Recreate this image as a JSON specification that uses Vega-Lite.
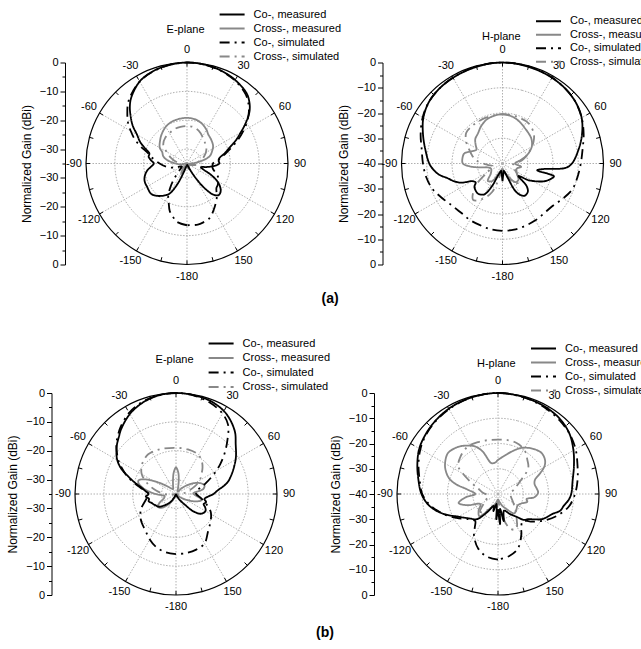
{
  "$schema": "https://vega.github.io/schema/vega-lite/v6.json",
  "background": "white",
  "padding": {"left": 6, "top": 8.5, "right": 0, "bottom": 0},
  "autosize": {"type": "pad"},
  "config": {
    "view": {"stroke": null},
    "font": "Liberation Sans",
    "title": {"font": "Liberation Sans", "fontSize": 11, "fontWeight": "normal", "color": "black"},
    "text": {"font": "Liberation Sans"},
    "axis": {"labelFont": "Liberation Sans", "titleFont": "Liberation Sans", "labelFontSize": 11, "titleFontSize": 12, "titleFontWeight": "normal", "labelColor": "black", "titleColor": "black", "domainColor": "black", "tickColor": "black", "grid": false, "labelOverlap": false, "labelFlush": false, "labelPadding": 2, "titlePadding": 6},
    "legend": {"labelFont": "Liberation Sans", "titleFont": "Liberation Sans", "titleFontSize": 11, "titleFontWeight": "normal", "titleColor": "black", "titleOrient": "left", "titleAnchor": "middle", "titleBaseline": "bottom", "titlePadding": 15, "symbolType": "M-5,0L5,0", "symbolSize": 25, "symbolStrokeWidth": 2, "symbolOffset": 7, "labelOffset": 16, "padding": 0, "labelFontSize": 11, "labelColor": "black", "labelLimit": 0}
  },
  "datasets": {
    "rings": [
      {"ring": -30, "a": [0,15,30,45,60,75,90,105,120,135,150,165,180,195,210,225,240,255,270,285,300,315,330,345]},
      {"ring": -20, "a": [0,15,30,45,60,75,90,105,120,135,150,165,180,195,210,225,240,255,270,285,300,315,330,345]},
      {"ring": -10, "a": [0,15,30,45,60,75,90,105,120,135,150,165,180,195,210,225,240,255,270,285,300,315,330,345]},
      {"ring": 0, "a": [0,15,30,45,60,75,90,105,120,135,150,165,180,195,210,225,240,255,270,285,300,315,330,345]}
    ],
    "ticks": [{"a": [0,15,30,45,60,75,90,105,120,135,150,165,180,195,210,225,240,255,270,285,300,315,330,345]}],
    "alabels": [{"a":0,"t":"0"},{"a":30,"t":"30"},{"a":60,"t":"60"},{"a":90,"t":"90"},{"a":120,"t":"120"},{"a":150,"t":"150"},{"a":180,"t":"-180"},{"a":210,"t":"-150"},{"a":240,"t":"-120"},{"a":270,"t":"-90"},{"a":300,"t":"-60"},{"a":330,"t":"-30"}],
    "Ea": [
      {"s": "Cross-, measured", "p": [[-180,-34],[-160,-33],[-150,-31],[-140,-33],[-120,-35],[-100,-33],[-90,-31],[-80,-28],[-73,-26.4],[-65,-25.5],[-60,-24.1],[-50,-22.8],[-41,-21.6],[-30,-20.3],[-20,-19.6],[-10,-19.3],[0,-19.2],[10,-19.4],[20,-20.2],[30,-21.5],[36,-22.5],[45,-23.2],[56,-24.1],[65,-25.5],[72,-26.7],[78,-29],[85,-32],[90,-33],[100,-32],[110,-33.5],[120,-35],[140,-34],[160,-33],[180,-34]]},
      {"s": "Cross-, simulated", "p": [[-180,-35],[-150,-33],[-120,-35],[-100,-34],[-90,-33],[-80,-31],[-70,-29],[-64,-27.8],[-51,-24.4],[-40,-23.3],[-29,-22.8],[-20,-22.3],[-10,-22.1],[0,-22],[10,-22.2],[20,-23],[32,-24.5],[43,-25.7],[54,-26.7],[65,-28.2],[75,-29.8],[85,-32],[95,-34],[110,-33],[130,-35],[150,-34],[180,-35]]},
      {"s": "Co-, simulated", "p": [[-180,-13.6],[-170,-14.5],[-165,-16],[-160,-17.5],[-155,-20],[-150,-22],[-145,-25],[-140,-28],[-130,-32],[-120,-33],[-110,-31],[-100,-28],[-90,-25.5],[-80,-22.5],[-75,-21],[-70,-18],[-65,-15],[-60,-12.5],[-55,-10],[-50,-8],[-45,-6],[-40,-4.5],[-30,-2.2],[-20,-1],[-10,-0.3],[0,0],[10,-0.2],[20,-0.8],[30,-1.8],[40,-3.5],[45,-5],[50,-7],[55,-9.5],[60,-12.5],[65,-15.5],[70,-18.5],[75,-21],[80,-23],[85,-24.5],[90,-26],[100,-26],[110,-24],[115,-23],[120,-22.5],[125,-22],[130,-21.7],[135,-20.5],[140,-19],[145,-17.8],[150,-16.5],[157,-14.6],[165,-13.8],[170,-13.5],[180,-13.6]]},
      {"s": "Co-, measured", "p": [[-180,-34],[-170,-34],[-160,-32],[-155,-27],[-150,-23],[-145,-21.5],[-140,-20.3],[-135,-19.3],[-130,-18.7],[-125,-18.8],[-120,-19],[-115,-19],[-110,-19.3],[-105,-20],[-100,-21],[-95,-22.5],[-90,-23.5],[-85,-22.5],[-80,-21.5],[-75,-21.5],[-70,-19.5],[-65,-17],[-60,-15],[-55,-12],[-50,-9.5],[-45,-7],[-40,-5],[-30,-2.2],[-20,-0.9],[-10,-0.3],[0,0],[10,-0.2],[20,-0.7],[30,-1.6],[40,-3],[45,-4.5],[50,-6.7],[55,-10],[60,-13.5],[65,-16.5],[70,-19.5],[75,-21.5],[80,-23.5],[85,-24],[90,-23.8],[95,-25.5],[100,-28],[105,-30],[110,-29],[115,-26],[120,-23],[125,-21],[130,-19.8],[135,-19.5],[140,-21],[145,-25],[150,-30],[155,-33],[160,-34],[170,-34.5],[180,-34]]}
    ],
    "Ha": [
      {"s": "Cross-, measured", "p": [[-180,-38],[-160,-36],[-150,-32],[-140,-31],[-130,-34],[-115,-35],[-105,-34],[-100,-31],[-95,-27],[-90,-24.3],[-82,-24],[-75,-24.4],[-68,-27],[-62,-28.3],[-55,-27],[-48,-25.5],[-39,-24.6],[-30,-23],[-20,-21.5],[-10,-20.8],[0,-20.5],[8,-20.8],[15,-21.3],[25,-22.5],[33,-23.5],[41,-24.2],[50,-25],[60,-26.6],[67,-28.5],[74,-30.7],[80,-33],[90,-35],[100,-32.5],[110,-34],[125,-33],[135,-31],[145,-31],[155,-34],[170,-37],[180,-38]]},
      {"s": "Cross-, simulated", "p": [[-180,-38],[-170,-36],[-160,-28],[-150,-23.7],[-141,-21.5],[-130,-26],[-120,-33],[-105,-36],[-95,-34],[-83,-29.5],[-75,-27.5],[-68,-25.9],[-60,-23.5],[-50,-21.2],[-40,-20.9],[-30,-20.8],[-20,-20.7],[-10,-20.6],[0,-20.5],[10,-20.6],[20,-20.7],[33,-21],[46,-22.8],[55,-25],[64,-27.8],[72,-30],[80,-32],[90,-35],[100,-36],[120,-34],[130,-32],[140,-30],[150,-31.5],[160,-35],[170,-37],[180,-38]]},
      {"s": "Co-, simulated", "p": [[-180,-13.3],[-170,-13.5],[-160,-14],[-150,-14.2],[-140,-14.5],[-130,-14],[-120,-12.5],[-110,-10.5],[-100,-9.3],[-90,-8.5],[-80,-7.5],[-70,-5.5],[-60,-3.5],[-50,-2],[-40,-1.2],[-30,-0.7],[-20,-0.4],[-10,-0.1],[0,0],[10,-0.1],[20,-0.4],[30,-0.7],[40,-1.3],[50,-2.2],[60,-3.8],[70,-5.8],[80,-7.8],[90,-9],[100,-9.8],[110,-10.5],[120,-12.3],[130,-14],[140,-14.3],[150,-14],[160,-13.7],[170,-13.4],[180,-13.3]]},
      {"s": "Co-, measured", "p": [[-180,-33],[-175,-36],[-170,-37],[-160,-35],[-155,-30],[-150,-26],[-145,-25],[-140,-24.6],[-130,-25.5],[-125,-27],[-120,-26],[-115,-22],[-110,-19.5],[-105,-17.5],[-100,-14.5],[-95,-12.5],[-90,-11],[-80,-9],[-70,-6.5],[-60,-3.8],[-50,-2],[-40,-1.2],[-30,-0.8],[-20,-0.5],[-10,-0.2],[0,0],[10,-0.2],[20,-0.5],[30,-0.8],[40,-1.3],[50,-2.2],[60,-3.8],[70,-6.5],[80,-9.5],[90,-12.5],[94,-15],[98,-24],[101,-26],[104,-19],[108,-20],[113,-22],[118,-25],[123,-28],[128,-32],[133,-27],[138,-25],[145,-24.5],[150,-25.5],[155,-28],[160,-34],[170,-37],[175,-36],[180,-33]]}
    ],
    "Eb": [
      {"s": "Cross-, measured", "p": [[-180,-35],[-160,-34],[-150,-32],[-140,-29.5],[-133,-28],[-126,-27.4],[-118,-28.5],[-110,-30.5],[-100,-31],[-95,-30],[-88,-27],[-80,-23.5],[-74,-21.5],[-70,-21.2],[-65,-23],[-58,-27],[-50,-30.5],[-40,-32.5],[-30,-33],[-20,-32],[-12,-30],[-6,-27.5],[0,-25.8],[6,-27.5],[12,-30.5],[20,-33],[35,-34],[45,-32],[55,-29],[63,-26.5],[70,-25],[74,-24.7],[80,-25.5],[88,-29],[95,-28],[100,-26.5],[104,-26],[110,-27.5],[120,-31],[135,-34],[160,-35],[180,-35]]},
      {"s": "Cross-, simulated", "p": [[-180,-35],[-150,-34],[-120,-35],[-100,-33.5],[-90,-31],[-80,-28],[-70,-24.5],[-60,-21.3],[-50,-19.5],[-40,-18.5],[-35,-18.2],[-25,-18.4],[-15,-18.7],[0,-19],[15,-19],[29,-19.3],[38,-20.5],[45,-22],[52,-23.8],[60,-25.5],[68,-28],[76,-30.5],[85,-32.5],[95,-34],[120,-35],[150,-34],[180,-35]]},
      {"s": "Co-, simulated", "p": [[-180,-14.2],[-170,-14.5],[-160,-15.3],[-150,-16.8],[-140,-18.5],[-130,-19.5],[-123,-20.3],[-115,-21.5],[-110,-22.5],[-100,-24.5],[-90,-25.5],[-80,-22.5],[-75,-20],[-70,-17],[-65,-14.5],[-60,-12],[-55,-10],[-50,-8],[-45,-6.5],[-40,-5],[-30,-2.5],[-20,-1],[-10,-0.3],[0,0],[10,-0.3],[20,-1.2],[30,-2.8],[37,-5],[44,-9.4],[50,-13],[56,-16.5],[62,-20],[70,-24],[75,-26],[82,-28],[90,-28],[100,-26],[110,-23.5],[117,-21.5],[123,-20.5],[130,-19.5],[140,-17.8],[150,-15.2],[160,-14.5],[170,-14.2],[180,-14.2]]},
      {"s": "Co-, measured", "p": [[-180,-35],[-170,-35],[-160,-34.5],[-150,-33],[-145,-31.5],[-135,-29.5],[-126,-27.5],[-120,-27],[-115,-26.5],[-110,-26],[-105,-25.2],[-100,-25.5],[-95,-24.5],[-90,-25.5],[-85,-24.5],[-80,-23],[-75,-20.5],[-70,-17.5],[-65,-14],[-60,-11.5],[-55,-9.8],[-50,-8.3],[-45,-7],[-40,-5.5],[-30,-3],[-20,-1.3],[-10,-0.3],[0,0],[10,-0.2],[20,-0.6],[30,-1.8],[37,-3.4],[44,-5.5],[50,-8],[58,-10.5],[65,-12.8],[72,-15],[77,-16.6],[81,-18.5],[85,-20.5],[90,-22],[95,-24],[100,-25],[105,-24.2],[110,-24.8],[115,-23.8],[120,-23.2],[128,-23.9],[135,-26.5],[140,-30],[150,-33],[160,-34.5],[170,-35],[180,-35]]}
    ],
    "Hb": [
      {"s": "Cross-, measured", "p": [[-180,-38],[-165,-36],[-150,-33],[-140,-28.5],[-130,-30],[-120,-32],[-110,-27],[-103,-24],[-96,-27],[-90,-31],[-82,-28],[-77,-23],[-73,-20.1],[-68,-18],[-61,-16],[-51,-14.4],[-44,-15],[-37,-16.2],[-26,-19],[-20,-22],[-12,-27.5],[-5,-27.5],[0,-26.5],[8,-25],[18,-22.3],[26,-19.8],[33,-18.2],[40,-17],[47,-16.3],[54,-17],[59,-18.5],[64,-21.5],[69,-24.3],[75,-25],[82,-24.5],[88,-24.1],[95,-25.5],[100,-28.5],[105,-28],[112,-30],[120,-31],[130,-30.5],[140,-30],[150,-33],[160,-35],[180,-38]]},
      {"s": "Cross-, simulated", "p": [[-180,-38],[-170,-36],[-150,-33],[-135,-30],[-120,-34],[-100,-36],[-85,-34],[-75,-32],[-67,-28.6],[-60,-24],[-55,-20.8],[-45,-19],[-32,-17.7],[-20,-18],[-10,-18.3],[0,-18.5],[10,-18.3],[20,-18.5],[26,-19],[35,-20.5],[40,-22],[48,-23.8],[54,-26.5],[58,-29],[65,-31.5],[72,-33],[90,-35],[120,-33],[135,-30],[145,-27],[150,-25],[155,-24.4],[162,-26],[170,-32],[180,-38]]},
      {"s": "Co-, simulated", "p": [[-180,-14],[-170,-14.8],[-160,-17],[-150,-21],[-145,-24],[-140,-26],[-135,-25.5],[-130,-24.5],[-120,-21],[-110,-17],[-100,-13],[-90,-10],[-80,-8.5],[-70,-6.5],[-60,-4.5],[-50,-3],[-40,-2],[-30,-1.2],[-20,-0.6],[-10,-0.2],[0,0],[10,-0.2],[20,-0.6],[30,-1.2],[40,-2],[50,-3],[60,-4.5],[70,-6.5],[80,-8],[90,-9.5],[100,-11.5],[110,-15],[120,-19],[130,-23],[137,-25.5],[145,-24],[150,-21.5],[160,-17],[170,-15],[180,-14]]},
      {"s": "Co-, measured", "p": [[-180,-34],[-176,-30],[-172,-36],[-165,-33],[-160,-35],[-150,-32],[-140,-27],[-130,-25],[-120,-22],[-110,-17],[-100,-12.5],[-90,-9.7],[-80,-8],[-70,-6],[-60,-4],[-50,-2.8],[-40,-1.8],[-30,-1],[-20,-0.5],[-10,-0.2],[0,0],[10,-0.2],[20,-0.5],[30,-0.8],[40,-1.5],[50,-3],[60,-5.5],[70,-8],[80,-10],[90,-11],[95,-12],[100,-13.5],[105,-14.5],[110,-17],[115,-18.5],[120,-20],[125,-22.5],[130,-24.5],[135,-25.5],[140,-28],[150,-31],[160,-33],[168,-29],[172,-34],[176,-28],[180,-34]]}
    ]
  },
  "bounds": "flush",
  "spacing": 330.5,
  "resolve": {"scale": {"x": "independent", "y": "independent", "color": "independent", "strokeDash": "independent"}, "legend": {"color": "independent", "strokeDash": "independent"}},
  "vconcat": [
    {
      "bounds": "flush",
      "spacing": 113.5,
      "title": {"text": "(a)", "orient": "bottom", "anchor": "middle", "fontSize": 14, "fontWeight": "bold", "offset": 10, "dx": -9},
      "resolve": {"scale": {"x": "independent", "y": "independent", "color": "independent", "strokeDash": "independent"}, "legend": {"color": "independent", "strokeDash": "independent"}},
      "hconcat": [
        {
          "width": 213, "height": 202,
          "encoding": {
            "x": {"field": "x", "type": "quantitative", "scale": {"domain": [-1.10891, 1], "nice": false, "zero": false}, "axis": null},
            "y": {"field": "y", "type": "quantitative", "scale": {"domain": [-1, 1], "nice": false, "zero": false},
                  "axis": {"title": "Normalized Gain (dBi)", "offset": 10, "values": [1,0.857143,0.714286,0.571429,0.428571,0.285714,0.142857,0,-0.142857,-0.285714,-0.428571,-0.571429,-0.714286,-0.857143,-1],
                           "labelExpr": "(round(abs(datum.value)*35)-35) % 10 == 0 ? format(round(abs(datum.value)*35)-35, 'd') : ''",
                           "tickSize": {"condition": {"test": "(round(abs(datum.value)*35)-35) % 10 == 0", "value": 5}, "value": 3}}}
          },
          "layer": [
            {"data": {"name": "rings"}, "transform": [{"flatten": ["a"]}, {"filter": "datum.ring < 0"}, {"calculate": "(datum.ring + 35) / 35", "as": "rn"}, {"calculate": "datum.rn * sin(datum.a * PI / 180)", "as": "x"}, {"calculate": "datum.rn * cos(datum.a * PI / 180)", "as": "y"}],
             "mark": {"type": "line", "interpolate": "cardinal-closed", "stroke": "#b0b0b0", "strokeWidth": 1, "strokeDash": [1.5, 1.5]},
             "encoding": {"detail": {"field": "ring", "type": "nominal"}, "order": {"field": "a", "type": "quantitative"}}},
            {"data": {"name": "alabels"}, "transform": [{"calculate": "0", "as": "x"}, {"calculate": "0", "as": "y"}, {"calculate": "sin(datum.a * PI / 180)", "as": "x2"}, {"calculate": "cos(datum.a * PI / 180)", "as": "y2"}],
             "mark": {"type": "rule", "stroke": "#b0b0b0", "strokeWidth": 1, "strokeDash": [1.5, 1.5]},
             "encoding": {"x2": {"field": "x2"}, "y2": {"field": "y2"}}},
            {"data": {"name": "rings"}, "transform": [{"flatten": ["a"]}, {"filter": "datum.ring == 0"}, {"calculate": "sin(datum.a * PI / 180)", "as": "x"}, {"calculate": "cos(datum.a * PI / 180)", "as": "y"}],
             "mark": {"type": "line", "interpolate": "cardinal-closed", "stroke": "black", "strokeWidth": 1.2},
             "encoding": {"order": {"field": "a", "type": "quantitative"}}},
            {"data": {"name": "ticks"}, "transform": [{"flatten": ["a"]}, {"calculate": "0.96 * sin(datum.a * PI / 180)", "as": "x"}, {"calculate": "0.96 * cos(datum.a * PI / 180)", "as": "y"}, {"calculate": "sin(datum.a * PI / 180)", "as": "x2"}, {"calculate": "cos(datum.a * PI / 180)", "as": "y2"}],
             "mark": {"type": "rule", "stroke": "black", "strokeWidth": 1},
             "encoding": {"x2": {"field": "x2"}, "y2": {"field": "y2"}}},
            {"data": {"name": "Ea"}, "transform": [{"flatten": ["p"]}, {"calculate": "datum.p[0]", "as": "a"}, {"calculate": "datum.p[1]", "as": "g"}, {"calculate": "max(0, (datum.g + 35) / 35)", "as": "rn"}, {"calculate": "datum.rn * sin(datum.a * PI / 180)", "as": "x"}, {"calculate": "datum.rn * cos(datum.a * PI / 180)", "as": "y"}],
             "mark": {"type": "line", "interpolate": "catmull-rom", "strokeWidth": 1.8},
             "encoding": {
               "order": {"field": "a", "type": "quantitative"},
               "color": {"field": "s", "type": "nominal", "scale": {"domain": ["Co-, measured", "Cross-, measured", "Co-, simulated", "Cross-, simulated"], "range": ["#000000", "#888888", "#000000", "#888888"]},
                         "legend": {"orient": "none", "legendX": 91.6, "legendY": -53.5, "title": "E-plane", "rowPadding": 2}},
               "strokeDash": {"field": "s", "type": "nominal", "scale": {"domain": ["Co-, measured", "Cross-, measured", "Co-, simulated", "Cross-, simulated"], "range": [[1, 0], [1, 0], [10, 5, 2, 5], [10, 5, 2, 5]]},
                         "legend": {"orient": "none", "legendX": 91.6, "legendY": -53.5, "title": "E-plane", "rowPadding": 2}}
             }},
            {"data": {"name": "alabels"}, "transform": [{"calculate": "1.12 * sin(datum.a * PI / 180)", "as": "x"}, {"calculate": "1.12 * cos(datum.a * PI / 180)", "as": "y"}],
             "mark": {"type": "text", "fontSize": 11, "align": "center", "baseline": "middle", "color": "black", "font": "Liberation Sans"},
             "encoding": {"text": {"field": "t"}}}
          ]
        },
        {
          "width": 202, "height": 202,
          "encoding": {
            "x": {"field": "x", "type": "quantitative", "scale": {"domain": [-1, 1], "nice": false, "zero": false}, "axis": null},
            "y": {"field": "y", "type": "quantitative", "scale": {"domain": [-1, 1], "nice": false, "zero": false},
                  "axis": {"title": "Normalized Gain (dBi)", "offset": 19, "values": [1,0.875,0.75,0.625,0.5,0.375,0.25,0.125,0,-0.125,-0.25,-0.375,-0.5,-0.625,-0.75,-0.875,-1],
                           "labelExpr": "(round(abs(datum.value)*40)-40) % 10 == 0 ? format(round(abs(datum.value)*40)-40, 'd') : ''",
                           "tickSize": {"condition": {"test": "(round(abs(datum.value)*40)-40) % 10 == 0", "value": 5}, "value": 3}}}
          },
          "layer": [
            {"data": {"name": "rings"}, "transform": [{"flatten": ["a"]}, {"filter": "datum.ring < 0"}, {"calculate": "(datum.ring + 40) / 40", "as": "rn"}, {"calculate": "datum.rn * sin(datum.a * PI / 180)", "as": "x"}, {"calculate": "datum.rn * cos(datum.a * PI / 180)", "as": "y"}],
             "mark": {"type": "line", "interpolate": "cardinal-closed", "stroke": "#b0b0b0", "strokeWidth": 1, "strokeDash": [1.5, 1.5]},
             "encoding": {"detail": {"field": "ring", "type": "nominal"}, "order": {"field": "a", "type": "quantitative"}}},
            {"data": {"name": "alabels"}, "transform": [{"calculate": "0", "as": "x"}, {"calculate": "0", "as": "y"}, {"calculate": "sin(datum.a * PI / 180)", "as": "x2"}, {"calculate": "cos(datum.a * PI / 180)", "as": "y2"}],
             "mark": {"type": "rule", "stroke": "#b0b0b0", "strokeWidth": 1, "strokeDash": [1.5, 1.5]},
             "encoding": {"x2": {"field": "x2"}, "y2": {"field": "y2"}}},
            {"data": {"name": "rings"}, "transform": [{"flatten": ["a"]}, {"filter": "datum.ring == 0"}, {"calculate": "sin(datum.a * PI / 180)", "as": "x"}, {"calculate": "cos(datum.a * PI / 180)", "as": "y"}],
             "mark": {"type": "line", "interpolate": "cardinal-closed", "stroke": "black", "strokeWidth": 1.2},
             "encoding": {"order": {"field": "a", "type": "quantitative"}}},
            {"data": {"name": "ticks"}, "transform": [{"flatten": ["a"]}, {"calculate": "0.96 * sin(datum.a * PI / 180)", "as": "x"}, {"calculate": "0.96 * cos(datum.a * PI / 180)", "as": "y"}, {"calculate": "sin(datum.a * PI / 180)", "as": "x2"}, {"calculate": "cos(datum.a * PI / 180)", "as": "y2"}],
             "mark": {"type": "rule", "stroke": "black", "strokeWidth": 1},
             "encoding": {"x2": {"field": "x2"}, "y2": {"field": "y2"}}},
            {"data": {"name": "Ha"}, "transform": [{"flatten": ["p"]}, {"calculate": "datum.p[0]", "as": "a"}, {"calculate": "datum.p[1]", "as": "g"}, {"calculate": "max(0, (datum.g + 40) / 40)", "as": "rn"}, {"calculate": "datum.rn * sin(datum.a * PI / 180)", "as": "x"}, {"calculate": "datum.rn * cos(datum.a * PI / 180)", "as": "y"}],
             "mark": {"type": "line", "interpolate": "catmull-rom", "strokeWidth": 1.8},
             "encoding": {
               "order": {"field": "a", "type": "quantitative"},
               "color": {"field": "s", "type": "nominal", "scale": {"domain": ["Co-, measured", "Cross-, measured", "Co-, simulated", "Cross-, simulated"], "range": ["#000000", "#888888", "#000000", "#888888"]},
                         "legend": {"orient": "none", "legendX": 80.5, "legendY": -46.8, "title": "H-plane", "rowPadding": 1.5}},
               "strokeDash": {"field": "s", "type": "nominal", "scale": {"domain": ["Co-, measured", "Cross-, measured", "Co-, simulated", "Cross-, simulated"], "range": [[1, 0], [1, 0], [10, 5, 2, 5], [10, 5, 2, 5]]},
                         "legend": {"orient": "none", "legendX": 80.5, "legendY": -46.8, "title": "H-plane", "rowPadding": 1.5}}
             }},
            {"data": {"name": "alabels"}, "transform": [{"calculate": "1.12 * sin(datum.a * PI / 180)", "as": "x"}, {"calculate": "1.12 * cos(datum.a * PI / 180)", "as": "y"}],
             "mark": {"type": "text", "fontSize": 11, "align": "center", "baseline": "middle", "color": "black", "font": "Liberation Sans"},
             "encoding": {"text": {"field": "t"}}}
          ]
        }
      ]
    },
    {
      "bounds": "flush",
      "spacing": 120,
      "title": {"text": "(b)", "orient": "bottom", "anchor": "middle", "fontSize": 14, "fontWeight": "bold", "offset": 14, "dx": -5},
      "resolve": {"scale": {"x": "independent", "y": "independent", "color": "independent", "strokeDash": "independent"}, "legend": {"color": "independent", "strokeDash": "independent"}},
      "hconcat": [
        {
          "width": 202, "height": 202,
          "encoding": {
            "x": {"field": "x", "type": "quantitative", "scale": {"domain": [-1, 1], "nice": false, "zero": false}, "axis": null},
            "y": {"field": "y", "type": "quantitative", "scale": {"domain": [-1, 1], "nice": false, "zero": false},
                  "axis": {"title": "Normalized Gain (dBi)", "offset": 23.5, "values": [1,0.857143,0.714286,0.571429,0.428571,0.285714,0.142857,0,-0.142857,-0.285714,-0.428571,-0.571429,-0.714286,-0.857143,-1],
                           "labelExpr": "(round(abs(datum.value)*35)-35) % 10 == 0 ? format(round(abs(datum.value)*35)-35, 'd') : ''",
                           "tickSize": {"condition": {"test": "(round(abs(datum.value)*35)-35) % 10 == 0", "value": 5}, "value": 3}}}
          },
          "layer": [
            {"data": {"name": "rings"}, "transform": [{"flatten": ["a"]}, {"filter": "datum.ring < 0"}, {"calculate": "(datum.ring + 35) / 35", "as": "rn"}, {"calculate": "datum.rn * sin(datum.a * PI / 180)", "as": "x"}, {"calculate": "datum.rn * cos(datum.a * PI / 180)", "as": "y"}],
             "mark": {"type": "line", "interpolate": "cardinal-closed", "stroke": "#b0b0b0", "strokeWidth": 1, "strokeDash": [1.5, 1.5]},
             "encoding": {"detail": {"field": "ring", "type": "nominal"}, "order": {"field": "a", "type": "quantitative"}}},
            {"data": {"name": "alabels"}, "transform": [{"calculate": "0", "as": "x"}, {"calculate": "0", "as": "y"}, {"calculate": "sin(datum.a * PI / 180)", "as": "x2"}, {"calculate": "cos(datum.a * PI / 180)", "as": "y2"}],
             "mark": {"type": "rule", "stroke": "#b0b0b0", "strokeWidth": 1, "strokeDash": [1.5, 1.5]},
             "encoding": {"x2": {"field": "x2"}, "y2": {"field": "y2"}}},
            {"data": {"name": "rings"}, "transform": [{"flatten": ["a"]}, {"filter": "datum.ring == 0"}, {"calculate": "sin(datum.a * PI / 180)", "as": "x"}, {"calculate": "cos(datum.a * PI / 180)", "as": "y"}],
             "mark": {"type": "line", "interpolate": "cardinal-closed", "stroke": "black", "strokeWidth": 1.2},
             "encoding": {"order": {"field": "a", "type": "quantitative"}}},
            {"data": {"name": "ticks"}, "transform": [{"flatten": ["a"]}, {"calculate": "0.96 * sin(datum.a * PI / 180)", "as": "x"}, {"calculate": "0.96 * cos(datum.a * PI / 180)", "as": "y"}, {"calculate": "sin(datum.a * PI / 180)", "as": "x2"}, {"calculate": "cos(datum.a * PI / 180)", "as": "y2"}],
             "mark": {"type": "rule", "stroke": "black", "strokeWidth": 1},
             "encoding": {"x2": {"field": "x2"}, "y2": {"field": "y2"}}},
            {"data": {"name": "Eb"}, "transform": [{"flatten": ["p"]}, {"calculate": "datum.p[0]", "as": "a"}, {"calculate": "datum.p[1]", "as": "g"}, {"calculate": "max(0, (datum.g + 35) / 35)", "as": "rn"}, {"calculate": "datum.rn * sin(datum.a * PI / 180)", "as": "x"}, {"calculate": "datum.rn * cos(datum.a * PI / 180)", "as": "y"}],
             "mark": {"type": "line", "interpolate": "catmull-rom", "strokeWidth": 1.8},
             "encoding": {
               "order": {"field": "a", "type": "quantitative"},
               "color": {"field": "s", "type": "nominal", "scale": {"domain": ["Co-, measured", "Cross-, measured", "Co-, simulated", "Cross-, simulated"], "range": ["#000000", "#888888", "#000000", "#888888"]},
                         "legend": {"orient": "none", "legendX": 80.6, "legendY": -55, "title": "E-plane", "rowPadding": 2.5}},
               "strokeDash": {"field": "s", "type": "nominal", "scale": {"domain": ["Co-, measured", "Cross-, measured", "Co-, simulated", "Cross-, simulated"], "range": [[1, 0], [1, 0], [10, 5, 2, 5], [10, 5, 2, 5]]},
                         "legend": {"orient": "none", "legendX": 80.6, "legendY": -55, "title": "E-plane", "rowPadding": 2.5}}
             }},
            {"data": {"name": "alabels"}, "transform": [{"calculate": "1.12 * sin(datum.a * PI / 180)", "as": "x"}, {"calculate": "1.12 * cos(datum.a * PI / 180)", "as": "y"}],
             "mark": {"type": "text", "fontSize": 11, "align": "center", "baseline": "middle", "color": "black", "font": "Liberation Sans"},
             "encoding": {"text": {"field": "t"}}}
          ]
        },
        {
          "width": 202, "height": 202,
          "encoding": {
            "x": {"field": "x", "type": "quantitative", "scale": {"domain": [-1, 1], "nice": false, "zero": false}, "axis": null},
            "y": {"field": "y", "type": "quantitative", "scale": {"domain": [-1, 1], "nice": false, "zero": false},
                  "axis": {"title": "Normalized Gain (dBi)", "offset": 23, "values": [1,0.875,0.75,0.625,0.5,0.375,0.25,0.125,0,-0.125,-0.25,-0.375,-0.5,-0.625,-0.75,-0.875,-1],
                           "labelExpr": "(round(abs(datum.value)*40)-40) % 10 == 0 ? format(round(abs(datum.value)*40)-40, 'd') : ''",
                           "tickSize": {"condition": {"test": "(round(abs(datum.value)*40)-40) % 10 == 0", "value": 5}, "value": 3}}}
          },
          "layer": [
            {"data": {"name": "rings"}, "transform": [{"flatten": ["a"]}, {"filter": "datum.ring < 0"}, {"calculate": "(datum.ring + 40) / 40", "as": "rn"}, {"calculate": "datum.rn * sin(datum.a * PI / 180)", "as": "x"}, {"calculate": "datum.rn * cos(datum.a * PI / 180)", "as": "y"}],
             "mark": {"type": "line", "interpolate": "cardinal-closed", "stroke": "#b0b0b0", "strokeWidth": 1, "strokeDash": [1.5, 1.5]},
             "encoding": {"detail": {"field": "ring", "type": "nominal"}, "order": {"field": "a", "type": "quantitative"}}},
            {"data": {"name": "alabels"}, "transform": [{"calculate": "0", "as": "x"}, {"calculate": "0", "as": "y"}, {"calculate": "sin(datum.a * PI / 180)", "as": "x2"}, {"calculate": "cos(datum.a * PI / 180)", "as": "y2"}],
             "mark": {"type": "rule", "stroke": "#b0b0b0", "strokeWidth": 1, "strokeDash": [1.5, 1.5]},
             "encoding": {"x2": {"field": "x2"}, "y2": {"field": "y2"}}},
            {"data": {"name": "rings"}, "transform": [{"flatten": ["a"]}, {"filter": "datum.ring == 0"}, {"calculate": "sin(datum.a * PI / 180)", "as": "x"}, {"calculate": "cos(datum.a * PI / 180)", "as": "y"}],
             "mark": {"type": "line", "interpolate": "cardinal-closed", "stroke": "black", "strokeWidth": 1.2},
             "encoding": {"order": {"field": "a", "type": "quantitative"}}},
            {"data": {"name": "ticks"}, "transform": [{"flatten": ["a"]}, {"calculate": "0.96 * sin(datum.a * PI / 180)", "as": "x"}, {"calculate": "0.96 * cos(datum.a * PI / 180)", "as": "y"}, {"calculate": "sin(datum.a * PI / 180)", "as": "x2"}, {"calculate": "cos(datum.a * PI / 180)", "as": "y2"}],
             "mark": {"type": "rule", "stroke": "black", "strokeWidth": 1},
             "encoding": {"x2": {"field": "x2"}, "y2": {"field": "y2"}}},
            {"data": {"name": "Hb"}, "transform": [{"flatten": ["p"]}, {"calculate": "datum.p[0]", "as": "a"}, {"calculate": "datum.p[1]", "as": "g"}, {"calculate": "max(0, (datum.g + 40) / 40)", "as": "rn"}, {"calculate": "datum.rn * sin(datum.a * PI / 180)", "as": "x"}, {"calculate": "datum.rn * cos(datum.a * PI / 180)", "as": "y"}],
             "mark": {"type": "line", "interpolate": "catmull-rom", "strokeWidth": 1.8},
             "encoding": {
               "order": {"field": "a", "type": "quantitative"},
               "color": {"field": "s", "type": "nominal", "scale": {"domain": ["Co-, measured", "Cross-, measured", "Co-, simulated", "Cross-, simulated"], "range": ["#000000", "#888888", "#000000", "#888888"]},
                         "legend": {"orient": "none", "legendX": 80, "legendY": -50, "title": "H-plane", "rowPadding": 2}},
               "strokeDash": {"field": "s", "type": "nominal", "scale": {"domain": ["Co-, measured", "Cross-, measured", "Co-, simulated", "Cross-, simulated"], "range": [[1, 0], [1, 0], [10, 5, 2, 5], [10, 5, 2, 5]]},
                         "legend": {"orient": "none", "legendX": 80, "legendY": -50, "title": "H-plane", "rowPadding": 2}}
             }},
            {"data": {"name": "alabels"}, "transform": [{"calculate": "1.12 * sin(datum.a * PI / 180)", "as": "x"}, {"calculate": "1.12 * cos(datum.a * PI / 180)", "as": "y"}],
             "mark": {"type": "text", "fontSize": 11, "align": "center", "baseline": "middle", "color": "black", "font": "Liberation Sans"},
             "encoding": {"text": {"field": "t"}}}
          ]
        }
      ]
    }
  ]
}
